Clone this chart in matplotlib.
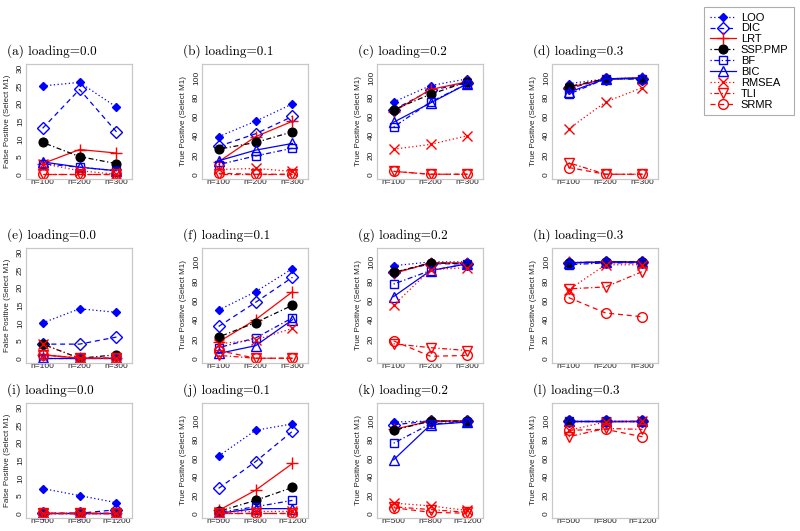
import matplotlib
matplotlib.use("Agg")
import matplotlib.pyplot as plt
from matplotlib.lines import Line2D

plt.rcParams['font.family'] = ['Liberation Sans', 'DejaVu Sans']

# Methods (row order in every panel array below)
methods = ["LOO", "DIC", "LRT", "SSP.PMP", "BF", "BIC", "RMSEA", "TLI", "SRMR"]
n_small = ["n=100", "n=200", "n=300"]
n_large = ["n=500", "n=800", "n=1200"]

titles = ["(a) loading=0.0", "(b) loading=0.1", "(c) loading=0.2", "(d) loading=0.3",
          "(e) loading=0.0", "(f) loading=0.1", "(g) loading=0.2", "(h) loading=0.3",
          "(i) loading=0.0", "(j) loading=0.1", "(k) loading=0.2", "(l) loading=0.3"]

# --- fila 1 ---
panel_a = [[25, 26, 19], [13, 24, 12], [3, 7, 6], [9, 5, 3], [3, 2, 1],
           [3.5, 2, 1], [3, 1, 0], [0, 0, 0], [0, 0, 0]]
panel_b = [[39, 55, 73], [29, 42, 60], [13, 39, 55], [26, 33, 44], [10, 19, 27],
           [14, 25, 32], [5, 6, 3], [0, 0, 0], [1, 0, 0]]
panel_c = [[75, 92, 99], [67, 87, 95], [65, 88, 96], [67, 83, 96], [49, 75, 94],
           [54, 74, 94], [26, 31, 40], [3, 0, 0], [3, 0, 0]]
panel_d = [[94, 99, 100], [89, 99, 99], [90, 99, 100], [91, 99, 99], [83, 99, 99],
           [85, 99, 100], [47, 75, 90], [12, 0, 0], [7, 0, 0]]
# --- fila 2 ---
panel_e = [[10, 14, 13], [4, 4, 6], [1, 0, 0], [4, 0, 1], [0, 0, 0],
           [0, 0, 0], [4, 0, 0], [1, 0, 0], [1, 0, 0]]
panel_f = [[50, 69, 93], [33, 58, 84], [17, 40, 69], [22, 37, 55], [11, 21, 42],
           [5, 13, 40], [15, 19, 31], [3, 0, 0], [8, 0, 0]]
panel_g = [[96, 100, 100], [89, 98, 98], [88, 99, 99], [89, 99, 98], [77, 91, 98],
           [64, 91, 98], [55, 92, 94], [15, 11, 8], [18, 2, 3]]
panel_h = [[100, 100, 100], [99, 100, 100], [100, 100, 100], [99, 100, 100], [97, 99, 99],
           [99, 100, 100], [71, 97, 97], [72, 74, 90], [63, 47, 43]]
# --- fila 3 ---
panel_i = [[7, 5, 3], [0, 0, 1], [0, 0, 0], [0, 0, 0], [0, 0, 0],
           [0, 0, 0], [0, 0, 0], [0, 0, 0], [0, 0, 0]]
panel_j = [[62, 90, 97], [27, 56, 89], [3, 25, 54], [2, 14, 28], [1, 7, 14],
           [0, 5, 5], [1, 2, 2], [0, 0, 0], [0, 0, 0]]
panel_k = [[99, 100, 100], [96, 100, 100], [91, 100, 100], [90, 100, 100], [76, 97, 99],
           [58, 96, 99], [11, 8, 3], [7, 4, 1], [6, 1, 0]]
panel_l = [[100, 100, 100], [100, 100, 100], [100, 100, 100], [100, 100, 100], [100, 100, 100],
           [100, 100, 100], [90, 99, 100], [83, 92, 91], [90, 91, 83]]

paneles = [panel_a, panel_b, panel_c, panel_d, panel_e, panel_f,
           panel_g, panel_h, panel_i, panel_j, panel_k, panel_l]

# estilo tipo R base graphics
dotted = (0, (1, 2))
dashed = (0, (4, 3))
dotdash = (0, (1, 2, 4, 2))
estilos = {
    "LOO":     dict(color="blue",  ls=dotted,  marker="D", ms=4.0, mfc="blue"),
    "DIC":     dict(color="blue",  ls=dashed,  marker="D", ms=6.2, mfc="none"),
    "LRT":     dict(color="red",   ls="-",     marker="+", ms=9.0, mfc="red"),
    "SSP.PMP": dict(color="black", ls=dotdash, marker="o", ms=6.3, mfc="black"),
    "BF":      dict(color="blue",  ls=dotdash, marker="s", ms=6.3, mfc="none"),
    "BIC":     dict(color="blue",  ls="-",     marker="^", ms=7.5, mfc="none"),
    "RMSEA":   dict(color="red",   ls=dotted,  marker="x", ms=7.0, mfc="red"),
    "TLI":     dict(color="red",   ls=dotdash, marker="v", ms=7.5, mfc="none"),
    "SRMR":    dict(color="red",   ls=dashed,  marker="o", ms=7.0, mfc="none"),
}

W, H = 800, 531
fig = plt.figure(figsize=(W / 100, H / 100), dpi=100)

lefts = [26, 202, 377, 552]   # px
tops = [64, 248, 403]         # px
aw, ah = 106, 114.5

def pos(x, y, w, h):
    return [x / W, 1 - (y + h) / H, w / W, h / H]

for k, datos in enumerate(paneles):
    fila, col = divmod(k, 4)
    ax = fig.add_axes(pos(lefts[col], tops[fila], aw, ah))
    xs = [1, 2, 3]
    for m, vals in zip(methods, datos):
        s = estilos[m]
        ax.plot(xs, vals, color=s["color"], ls=s["ls"], lw=0.9, marker=s["marker"],
                ms=s["ms"], mfc=s["mfc"], mec=s["color"], mew=1.0, clip_on=False)
    ax.set_xlim(0.55, 3.42)
    if col == 0:
        ax.set_ylim(-1.2, 31.2)
        ax.set_yticks(range(0, 31, 5))
        ax.set_ylabel("False Positive (Select M1)", fontsize=5.8, color="#222222")
    else:
        if fila == 2:
            ax.set_ylim(-4.6, 119.6)
        else:
            ax.set_ylim(-4.4, 114.4)
        ax.set_yticks(range(0, 101, 20))
        ax.set_ylabel("True Positive (Select M1)", fontsize=5.8, color="#222222")
    ax.yaxis.set_label_coords(-15 / aw, 0.5)
    ax.set_xticks(xs)
    ax.set_xticklabels(n_large if fila == 2 else n_small)
    ax.tick_params(length=0, labelsize=6, labelcolor="#222222")
    ax.tick_params(axis="x", pad=0.5)
    ax.tick_params(axis="y", pad=1.5)
    plt.setp(ax.get_yticklabels(), rotation=90, va="center")
    for sp in ax.spines.values():
        sp.set_color("#c8c8c8")
        sp.set_linewidth(0.9)
    # título tipo LaTeX
    fig.text((lefts[col] - 19) / W, 1 - (tops[fila] - 13) / H, titles[k],
             fontfamily="cmr10", fontsize=9.5, ha="left", va="center")

# leyenda
handles = []
for m in methods:
    s = estilos[m]
    handles.append(Line2D([], [], color=s["color"], ls=s["ls"], lw=0.9, marker=s["marker"],
                          ms=s["ms"], mfc=s["mfc"], mec=s["color"], mew=1.0, label=m))
leg = fig.legend(handles=handles, loc="upper left", bbox_to_anchor=(704 / W, 1 - 7 / H),
                 borderaxespad=0, fontsize=8, frameon=True, fancybox=False,
                 handlelength=2.4, handletextpad=0.4, labelspacing=0.08, borderpad=0.5)
leg.get_frame().set_edgecolor("#999999")
leg.get_frame().set_linewidth(0.8)

fig.savefig("out.png", dpi=100)
